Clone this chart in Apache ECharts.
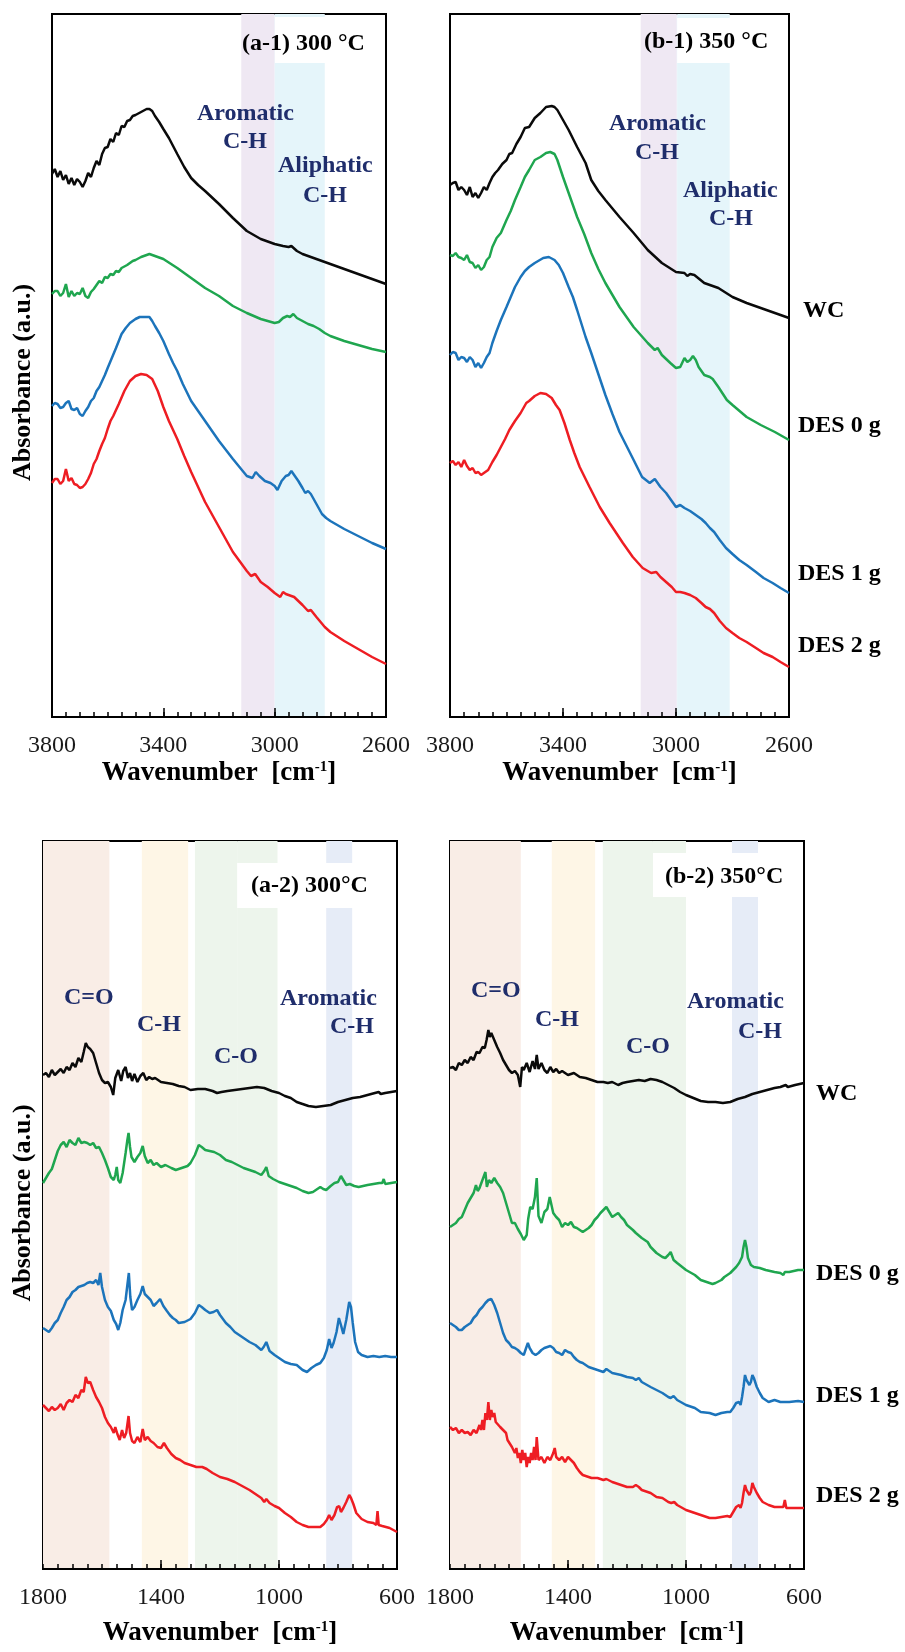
<!DOCTYPE html>
<html>
<head>
<meta charset="utf-8">
<script src="https://cdn.jsdelivr.net/npm/echarts@6/dist/echarts.min.js"></script>
<style>
  html, body { margin: 0; padding: 0; background: #fff; }
  #chart { width: 905px; height: 1652px; }
</style>
</head>
<body>
<div id="chart"></div>
<script>
  // ---- tick labels ----
  const ticksHigh = [3800, 3400, 3000, 2600];
  const ticksLow = [1800, 1400, 1000, 600];

  // ---- shaded bands [from, to] in cm-1 ----
  const bandsA1 = [[3120, 3000], [3000, 2820]];
  const bandsB1 = [[3125, 2997], [2997, 2810]];
  const bandsA2 = [[1800, 1575], [1465, 1308], [1285, 1005], [840, 752]];
  const bandsB2 = [[1800, 1560], [1455, 1308], [1282, 1000], [844, 756]];

  // ---- (a-1) 300 °C, 3800-2600 cm-1 ----
  const a1WC = [[3800,54.3],[3790,54.8],[3780,54.0],[3770,54.6],[3760,53.7],[3750,54.2],[3740,53.3],[3730,53.9],[3720,53.2],[3710,53.8],[3700,53.5],[3690,53.0],[3680,53.6],[3670,54.4],[3660,54.0],[3650,54.9],[3640,55.6],[3630,55.2],[3620,56.3],[3610,56.9],[3600,57.0],[3590,57.8],[3580,57.5],[3570,58.4],[3560,58.2],[3550,59.1],[3540,59.0],[3530,59.6],[3520,59.7],[3510,60.1],[3500,60.2],[3480,60.5],[3460,60.8],[3450,60.8],[3440,60.6],[3430,60.1],[3415,59.5],[3400,58.8],[3380,57.9],[3350,56.3],[3325,55.0],[3300,53.9],[3275,53.2],[3250,52.6],[3200,51.3],[3150,49.9],[3100,48.6],[3050,47.8],[3000,47.3],[2970,47.1],[2950,47.0],[2940,47.1],[2920,46.6],[2900,46.3],[2850,45.8],[2800,45.3],[2750,44.8],[2700,44.3],[2650,43.8],[2600,43.3]];
  const a1D0 = [[3800,42.3],[3790,42.6],[3780,42.6],[3770,42.1],[3760,42.4],[3750,43.3],[3740,42.0],[3730,42.6],[3720,42.1],[3710,42.4],[3700,42.3],[3690,42.9],[3680,42.1],[3670,41.9],[3660,42.5],[3650,42.8],[3640,43.2],[3630,43.6],[3620,43.4],[3610,44.0],[3600,43.9],[3590,44.3],[3580,44.2],[3570,44.6],[3560,44.5],[3550,44.9],[3530,45.2],[3510,45.6],[3500,45.7],[3480,46.0],[3460,46.2],[3450,46.3],[3430,46.1],[3400,45.8],[3350,44.9],[3300,43.9],[3250,42.9],[3200,42.1],[3150,41.1],[3100,40.4],[3050,39.8],[3000,39.4],[2985,39.5],[2970,39.9],[2955,40.1],[2945,40.0],[2933,40.3],[2920,39.9],[2900,39.6],[2880,39.3],[2860,39.1],[2840,38.8],[2820,38.4],[2800,38.1],[2750,37.6],[2700,37.2],[2650,36.8],[2600,36.5]];
  const a1D1 = [[3800,31.1],[3790,31.4],[3780,31.3],[3770,30.9],[3760,31.0],[3750,31.4],[3740,31.6],[3730,30.8],[3720,30.7],[3710,30.9],[3700,30.3],[3690,30.1],[3680,30.6],[3670,31.0],[3660,31.6],[3650,31.9],[3640,32.6],[3630,33.0],[3620,33.6],[3610,34.2],[3600,34.9],[3585,35.9],[3570,36.9],[3560,37.6],[3550,38.3],[3535,38.9],[3520,39.4],[3500,39.8],[3485,40.0],[3470,40.0],[3450,40.0],[3440,39.6],[3430,39.1],[3415,38.4],[3400,37.6],[3380,36.3],[3365,35.4],[3350,34.6],[3330,33.3],[3300,31.6],[3275,30.6],[3250,29.6],[3200,27.6],[3150,25.8],[3100,24.1],[3080,23.9],[3068,24.5],[3055,24.1],[3035,23.6],[3015,23.4],[3000,23.1],[2990,22.7],[2975,23.6],[2960,24.1],[2950,24.2],[2940,24.6],[2930,24.2],[2915,23.6],[2900,22.9],[2890,22.4],[2880,22.6],[2870,22.3],[2850,21.3],[2830,20.3],[2815,19.9],[2800,19.6],[2750,18.8],[2700,18.1],[2650,17.4],[2600,16.8]];
  const a1D2 = [[3800,23.4],[3790,23.8],[3780,23.8],[3770,23.3],[3760,23.6],[3750,24.8],[3740,23.6],[3730,23.9],[3720,23.3],[3710,23.2],[3700,22.9],[3690,23.0],[3680,23.3],[3670,23.8],[3660,24.4],[3650,25.3],[3640,25.8],[3630,26.6],[3620,27.3],[3610,27.9],[3600,28.8],[3590,29.6],[3580,30.1],[3570,30.7],[3560,31.3],[3540,32.6],[3520,33.6],[3500,34.1],[3480,34.3],[3460,34.2],[3440,33.8],[3420,32.6],[3400,31.0],[3380,29.6],[3350,27.8],[3325,26.1],[3300,24.5],[3250,21.5],[3200,19.0],[3150,16.5],[3100,14.6],[3085,14.1],[3070,14.3],[3050,13.5],[3025,13.0],[3000,12.4],[2980,12.0],[2970,12.5],[2960,12.3],[2950,12.2],[2930,12.0],[2915,11.6],[2900,11.2],[2880,10.6],[2870,10.7],[2850,10.0],[2820,9.0],[2800,8.5],[2750,7.6],[2700,6.8],[2650,6.0],[2600,5.3]];

  // ---- (b-1) 350 °C, 3800-2600 cm-1 ----
  const b1WC = [[3800,53.2],[3790,53.4],[3780,53.5],[3770,52.7],[3760,53.0],[3750,52.7],[3740,52.2],[3730,53.0],[3720,52.0],[3710,52.4],[3700,51.9],[3690,52.4],[3680,53.0],[3670,52.7],[3660,53.4],[3650,54.0],[3640,54.4],[3630,54.7],[3615,55.3],[3600,55.7],[3590,56.3],[3580,56.4],[3565,57.3],[3550,58.0],[3535,58.9],[3520,59.0],[3500,59.9],[3480,60.4],[3460,61.0],[3440,61.1],[3430,61.0],[3420,60.7],[3400,59.7],[3380,58.7],[3350,57.0],[3320,55.4],[3300,53.7],[3275,52.6],[3250,51.7],[3200,50.0],[3150,48.4],[3100,46.7],[3050,45.4],[3000,44.5],[2970,44.4],[2960,44.1],[2950,44.3],[2935,44.2],[2900,43.4],[2850,42.9],[2800,42.0],[2750,41.4],[2700,40.9],[2650,40.4],[2600,39.9]];
  const b1D0 = [[3800,46.2],[3790,46.1],[3780,46.4],[3770,46.0],[3760,45.9],[3750,45.7],[3740,46.2],[3730,45.5],[3720,45.4],[3710,44.9],[3700,45.2],[3690,44.7],[3680,45.0],[3670,45.7],[3660,46.0],[3650,47.0],[3635,47.9],[3620,48.4],[3600,49.7],[3585,50.6],[3570,51.7],[3550,53.0],[3535,54.0],[3520,54.7],[3500,55.7],[3480,56.0],[3460,56.4],[3445,56.5],[3430,56.3],[3420,55.7],[3400,54.0],[3380,52.4],[3350,50.0],[3325,48.3],[3300,46.4],[3275,44.8],[3250,43.4],[3200,41.0],[3150,39.0],[3100,37.4],[3075,36.7],[3065,36.9],[3050,36.2],[3020,35.4],[3000,34.9],[2985,35.0],[2970,35.9],[2960,35.5],[2950,35.7],[2940,36.1],[2930,35.7],[2920,35.0],[2900,34.2],[2880,34.0],[2870,33.8],[2850,33.0],[2820,31.7],[2800,31.2],[2750,30.0],[2700,29.2],[2650,28.5],[2600,27.7]];
  const b1D1 = [[3800,36.2],[3790,36.5],[3780,36.4],[3770,35.7],[3760,36.0],[3750,35.9],[3740,35.5],[3730,36.0],[3720,35.7],[3710,35.0],[3700,35.4],[3690,34.9],[3680,35.4],[3670,36.0],[3660,36.4],[3650,37.4],[3635,38.6],[3620,39.7],[3600,41.0],[3585,42.0],[3570,43.0],[3550,44.0],[3535,44.6],[3520,45.0],[3500,45.4],[3470,45.9],[3450,46.0],[3430,45.7],[3415,45.2],[3400,44.4],[3380,43.0],[3365,42.0],[3350,40.7],[3320,38.0],[3300,36.4],[3275,34.3],[3250,32.2],[3225,30.3],[3200,28.5],[3150,25.7],[3120,24.0],[3093,23.4],[3075,23.8],[3070,23.9],[3055,23.0],[3035,22.4],[3015,21.6],[3000,21.0],[2985,21.2],[2970,20.9],[2950,20.6],[2930,20.2],[2910,19.8],[2895,19.4],[2880,18.9],[2865,18.5],[2845,17.7],[2823,16.9],[2800,16.3],[2776,15.7],[2750,15.2],[2717,14.5],[2690,13.9],[2658,13.4],[2630,12.9],[2600,12.4]];
  const b1D2 = [[3800,25.4],[3790,25.6],[3780,25.2],[3770,25.5],[3760,25.0],[3750,25.7],[3740,25.1],[3730,24.7],[3720,24.9],[3710,24.4],[3700,24.5],[3690,24.2],[3680,24.4],[3665,24.7],[3650,25.5],[3635,26.2],[3620,27.0],[3605,27.8],[3590,28.7],[3570,29.6],[3550,30.4],[3530,31.4],[3520,31.6],[3500,32.1],[3480,32.4],[3460,32.3],[3440,31.9],[3425,31.2],[3412,30.7],[3395,29.4],[3376,27.7],[3360,26.4],[3341,25.0],[3306,23.0],[3270,21.0],[3235,19.4],[3188,17.4],[3153,16.0],[3118,14.9],[3088,14.4],[3070,14.5],[3055,14.0],[3035,13.5],[3015,13.0],[3000,12.5],[2985,12.5],[2970,12.4],[2950,12.2],[2930,11.9],[2910,11.4],[2895,11.0],[2880,10.8],[2865,10.4],[2845,9.6],[2823,8.9],[2800,8.4],[2776,7.9],[2750,7.5],[2717,6.9],[2690,6.4],[2658,6.0],[2630,5.5],[2600,5.0]];

  // ---- (a-2) 300 °C, 1800-600 cm-1 ----
  const a2WC = [[1800,49.4],[1790,49.6],[1780,49.2],[1770,49.9],[1760,49.4],[1750,49.7],[1740,50.0],[1730,49.6],[1720,50.2],[1710,49.9],[1700,50.6],[1690,50.2],[1680,51.1],[1670,50.7],[1662,51.7],[1655,52.6],[1648,52.2],[1640,52.0],[1630,51.6],[1620,50.6],[1610,49.6],[1600,48.9],[1590,48.6],[1580,48.7],[1570,48.2],[1562,47.4],[1555,49.1],[1545,49.9],[1535,48.8],[1528,49.8],[1520,50.2],[1512,49.1],[1505,49.6],[1498,48.8],[1490,49.5],[1480,48.7],[1470,49.3],[1460,49.6],[1450,48.9],[1440,49.2],[1430,49.0],[1420,49.1],[1400,48.7],[1380,48.6],[1360,48.5],[1340,48.3],[1320,48.2],[1300,47.9],[1275,48.0],[1250,48.0],[1225,47.8],[1210,47.6],[1195,47.7],[1175,47.8],[1150,47.9],[1125,48.0],[1100,48.1],[1075,48.2],[1050,48.1],[1025,47.8],[1000,47.6],[980,47.3],[960,47.1],[940,46.7],[920,46.5],[900,46.3],[875,46.2],[850,46.3],[825,46.4],[800,46.7],[775,46.9],[750,47.1],[725,47.2],[700,47.4],[675,47.6],[662,47.7],[655,47.5],[640,47.6],[620,47.7],[600,47.8]];
  const a2D0 = [[1800,38.6],[1790,39.1],[1780,39.6],[1770,40.0],[1760,40.9],[1750,41.8],[1740,42.4],[1730,42.7],[1720,42.2],[1710,42.9],[1700,42.6],[1690,42.4],[1680,43.1],[1670,42.6],[1660,42.7],[1650,42.6],[1640,42.4],[1630,42.6],[1620,42.1],[1610,42.2],[1600,41.6],[1590,40.9],[1580,40.1],[1570,39.2],[1560,38.9],[1555,39.4],[1550,40.2],[1545,38.9],[1538,38.6],[1530,39.6],[1520,41.6],[1514,42.9],[1510,43.6],[1505,42.2],[1500,41.2],[1490,40.7],[1480,41.2],[1470,41.6],[1462,42.3],[1455,41.3],[1445,40.6],[1435,40.9],[1425,40.4],[1415,40.6],[1400,40.2],[1385,40.4],[1365,40.1],[1350,39.9],[1330,40.1],[1310,40.3],[1300,40.6],[1285,41.4],[1272,42.4],[1262,42.2],[1250,41.9],[1235,41.8],[1220,41.7],[1200,41.4],[1180,40.9],[1160,40.7],[1140,40.4],[1120,40.1],[1100,39.9],[1080,39.7],[1060,39.4],[1050,39.8],[1043,40.2],[1035,39.3],[1020,39.0],[1000,38.7],[980,38.5],[960,38.3],[940,38.1],[920,37.8],[900,37.6],[885,37.7],[870,38.0],[860,38.2],[850,38.0],[840,37.9],[825,38.3],[812,38.6],[800,38.7],[790,39.3],[782,38.9],[772,38.4],[760,38.5],[745,38.3],[730,38.2],[715,38.3],[700,38.4],[680,38.5],[660,38.6],[650,38.6],[645,39.0],[640,38.5],[620,38.6],[600,38.7]];
  const a2D1 = [[1800,24.1],[1790,23.9],[1780,23.7],[1770,24.1],[1760,24.6],[1750,24.9],[1740,25.6],[1730,26.2],[1720,26.9],[1710,27.2],[1700,27.7],[1690,27.9],[1680,28.2],[1670,28.3],[1660,28.4],[1650,28.6],[1640,28.7],[1630,28.6],[1620,28.9],[1612,28.4],[1606,29.6],[1600,28.2],[1590,26.9],[1580,26.2],[1570,25.8],[1560,24.9],[1552,24.5],[1545,23.9],[1538,24.6],[1530,25.9],[1520,26.9],[1514,28.4],[1509,29.6],[1504,27.2],[1498,25.9],[1490,26.2],[1480,26.9],[1470,27.5],[1462,28.3],[1455,27.5],[1445,27.2],[1435,26.9],[1425,26.3],[1415,26.6],[1403,27.0],[1392,26.3],[1380,25.8],[1370,25.4],[1360,25.1],[1350,24.9],[1340,24.6],[1320,24.7],[1300,25.0],[1285,25.6],[1272,26.4],[1262,26.2],[1250,25.9],[1235,25.6],[1222,25.7],[1210,25.9],[1200,25.4],[1180,24.6],[1165,24.2],[1150,23.7],[1125,23.2],[1100,22.7],[1080,22.4],[1060,21.9],[1052,22.2],[1043,22.7],[1032,21.8],[1015,21.4],[1000,21.1],[980,20.7],[960,20.5],[940,20.4],[920,19.9],[905,19.7],[890,20.1],[875,20.4],[860,20.6],[848,21.1],[838,21.9],[830,23.0],[822,22.1],[815,22.6],[805,23.7],[797,25.1],[790,24.4],[782,23.5],[772,24.9],[762,26.7],[756,26.2],[750,24.6],[742,22.7],[732,21.7],[720,21.4],[700,21.2],[680,21.3],[660,21.2],[640,21.3],[620,21.2],[600,21.2]];
  const a2D2 = [[1800,16.4],[1790,16.1],[1780,15.8],[1770,16.2],[1760,15.9],[1750,16.1],[1740,16.5],[1730,15.9],[1720,16.6],[1710,16.9],[1700,16.7],[1690,17.4],[1680,17.1],[1670,17.9],[1662,17.7],[1655,19.2],[1648,18.6],[1640,18.7],[1630,17.9],[1620,17.2],[1610,16.7],[1600,16.1],[1590,15.2],[1580,14.6],[1570,14.2],[1560,13.6],[1555,14.2],[1548,13.5],[1540,12.9],[1532,13.9],[1525,13.1],[1518,13.6],[1510,15.3],[1505,13.6],[1498,12.8],[1490,12.6],[1480,13.2],[1470,12.7],[1462,14.0],[1455,12.9],[1445,13.2],[1435,12.8],[1425,12.6],[1412,12.2],[1400,12.1],[1390,12.6],[1380,12.1],[1365,11.5],[1350,11.1],[1335,10.9],[1320,10.6],[1300,10.4],[1280,10.2],[1260,10.2],[1245,10.0],[1225,9.6],[1200,9.2],[1175,9.0],[1150,8.7],[1125,8.3],[1100,7.9],[1080,7.5],[1060,7.1],[1050,6.7],[1043,7.0],[1032,6.6],[1015,6.3],[1000,6.1],[980,5.6],[960,5.2],[940,4.7],[920,4.4],[900,4.2],[880,4.2],[860,4.2],[848,4.5],[838,4.9],[830,5.4],[822,4.9],[812,5.4],[803,6.2],[796,6.3],[790,5.7],[782,6.1],[772,6.7],[762,7.4],[756,7.1],[748,6.5],[738,5.6],[720,5.0],[700,4.7],[680,4.6],[670,4.4],[666,5.8],[662,4.4],[650,4.3],[625,4.1],[600,3.7]];

  // ---- (b-2) 350 °C, 1800-600 cm-1 ----
  const b2WC = [[1800,50.1],[1790,50.2],[1780,49.9],[1770,50.6],[1760,50.4],[1750,50.9],[1740,50.6],[1730,51.2],[1720,50.9],[1710,51.7],[1700,51.6],[1690,52.2],[1682,52.1],[1676,52.9],[1670,53.9],[1665,53.2],[1660,53.6],[1650,52.9],[1640,52.2],[1630,51.6],[1620,50.9],[1610,50.4],[1600,49.9],[1590,49.6],[1580,49.8],[1570,49.4],[1562,48.2],[1556,50.2],[1550,49.9],[1540,50.6],[1530,49.7],[1520,50.8],[1512,50.0],[1506,51.4],[1500,50.0],[1490,50.6],[1480,49.9],[1470,49.6],[1460,50.2],[1450,49.7],[1440,50.0],[1430,49.6],[1420,49.8],[1410,49.6],[1400,49.4],[1380,49.6],[1360,49.2],[1340,49.1],[1320,48.9],[1300,48.7],[1280,48.7],[1265,48.6],[1250,48.7],[1230,48.4],[1215,48.6],[1200,48.7],[1180,48.8],[1160,48.9],[1140,48.8],[1120,49.0],[1100,48.9],[1080,48.7],[1060,48.4],[1040,48.1],[1020,47.7],[1000,47.4],[975,47.1],[950,46.8],[925,46.7],[900,46.7],[875,46.6],[850,46.7],[825,47.0],[800,47.2],[775,47.5],[750,47.7],[725,47.9],[700,48.1],[680,48.2],[662,48.4],[655,48.2],[630,48.4],[600,48.6]];
  const b2D0 = [[1800,34.2],[1790,34.4],[1780,34.6],[1770,35.0],[1760,35.2],[1750,35.9],[1740,36.6],[1730,37.1],[1720,37.6],[1712,38.4],[1706,37.8],[1700,38.1],[1690,38.9],[1680,39.7],[1675,38.2],[1668,38.9],[1660,38.6],[1650,39.1],[1640,38.6],[1630,38.2],[1620,37.6],[1610,36.6],[1600,35.6],[1590,34.6],[1580,34.6],[1570,34.0],[1560,33.5],[1550,32.9],[1540,33.4],[1535,35.0],[1528,36.2],[1520,36.0],[1512,37.2],[1506,39.1],[1500,35.3],[1490,34.6],[1480,35.7],[1470,36.0],[1462,37.2],[1450,35.6],[1440,35.2],[1430,34.9],[1420,34.2],[1410,34.6],[1400,34.4],[1390,34.7],[1380,34.2],[1370,34.1],[1360,33.9],[1350,33.7],[1340,33.9],[1330,34.1],[1320,34.4],[1310,34.9],[1300,35.2],[1290,35.6],[1280,35.9],[1270,36.2],[1260,35.7],[1250,35.2],[1240,35.4],[1230,35.6],[1220,35.2],[1210,34.9],[1200,34.4],[1180,33.9],[1170,33.6],[1150,33.1],[1130,32.7],[1120,32.2],[1100,31.6],[1080,31.2],[1070,31.1],[1060,31.4],[1052,31.7],[1042,30.9],[1030,30.6],[1000,29.9],[970,29.4],[950,28.9],[930,28.7],[910,28.5],[900,28.6],[880,28.9],[870,29.2],[860,29.4],[850,29.6],[840,29.9],[830,30.2],[820,30.6],[810,31.2],[805,32.2],[800,32.9],[795,32.2],[790,31.1],[780,30.4],[770,30.2],[750,30.1],[730,29.9],[700,29.7],[680,29.6],[670,29.4],[665,29.7],[650,29.7],[620,29.9],[600,29.9]];
  const b2D1 = [[1800,24.6],[1790,24.4],[1780,24.2],[1770,23.9],[1760,23.9],[1750,24.2],[1740,24.4],[1730,24.6],[1720,25.1],[1710,25.4],[1700,25.9],[1690,26.2],[1680,26.6],[1670,26.9],[1665,26.7],[1660,27.0],[1650,26.4],[1640,25.6],[1630,24.6],[1620,23.6],[1610,22.9],[1600,22.6],[1590,22.2],[1580,22.1],[1570,21.9],[1560,21.6],[1550,21.4],[1542,22.1],[1536,22.6],[1530,22.1],[1520,21.6],[1510,21.4],[1500,21.6],[1490,21.9],[1480,22.1],[1470,22.2],[1460,22.3],[1450,22.1],[1440,21.7],[1430,21.6],[1420,21.4],[1410,21.9],[1400,21.7],[1390,21.6],[1380,21.2],[1370,20.9],[1360,20.7],[1350,20.6],[1330,20.2],[1300,19.9],[1280,19.7],[1270,20.0],[1250,19.6],[1220,19.4],[1200,19.2],[1180,19.1],[1170,18.9],[1160,19.1],[1150,18.7],[1120,18.2],[1100,17.9],[1080,17.6],[1060,17.2],[1052,17.1],[1042,17.3],[1030,16.9],[1000,16.4],[970,16.1],[950,15.7],[920,15.6],[900,15.4],[880,15.6],[860,15.7],[850,15.7],[840,16.1],[830,16.6],[820,16.7],[815,16.4],[810,17.2],[805,18.2],[800,19.4],[795,18.9],[790,19.1],[785,18.4],[780,18.7],[775,19.4],[770,19.1],[760,18.2],[750,17.6],[740,17.1],[720,16.7],[700,16.9],[680,16.7],[650,16.7],[620,16.8],[600,16.7]];
  const b2D2 = [[1800,14.2],[1790,13.9],[1780,14.1],[1770,13.6],[1760,13.9],[1750,13.6],[1740,13.7],[1730,13.4],[1720,13.9],[1710,13.6],[1700,14.4],[1695,13.9],[1690,14.9],[1685,13.9],[1680,15.6],[1675,14.9],[1670,16.7],[1665,14.9],[1660,15.9],[1655,15.2],[1650,15.6],[1645,14.7],[1640,14.9],[1630,14.2],[1620,13.9],[1610,13.6],[1605,12.9],[1600,13.1],[1590,12.2],[1580,11.6],[1575,12.1],[1570,11.1],[1565,11.6],[1560,10.6],[1555,11.9],[1550,10.9],[1545,11.6],[1540,10.2],[1535,11.2],[1530,10.6],[1525,11.6],[1520,10.9],[1515,12.2],[1510,10.9],[1506,13.2],[1500,10.9],[1490,11.2],[1480,10.6],[1470,11.2],[1460,10.9],[1450,11.6],[1445,12.1],[1440,11.2],[1430,10.9],[1420,11.2],[1410,10.7],[1400,11.2],[1390,10.9],[1380,10.6],[1370,10.1],[1360,9.7],[1350,9.4],[1330,9.2],[1320,9.1],[1300,9.1],[1280,8.9],[1270,9.0],[1250,8.7],[1220,8.4],[1200,8.2],[1180,8.2],[1170,8.4],[1160,8.2],[1150,7.9],[1120,7.6],[1100,7.2],[1080,7.1],[1060,6.7],[1050,6.6],[1040,6.7],[1030,6.4],[1000,5.9],[970,5.6],[950,5.4],[920,5.1],[900,5.1],[880,5.2],[860,5.3],[850,5.2],[840,5.7],[830,6.2],[820,6.4],[815,6.1],[810,6.6],[805,7.6],[800,8.4],[795,7.9],[790,8.1],[785,7.4],[780,7.7],[775,8.6],[770,8.2],[760,7.6],[750,7.1],[740,6.7],[720,6.4],[700,6.2],[680,6.2],[670,6.2],[665,6.9],[660,6.1],[650,6.1],[600,6.1]];

  const SERIF = '"Liberation Serif", "DejaVu Serif", serif';
  const NAVY = '#1f2d6b';
  const colors = { WC: '#0a0a0a', D0: '#1fa64f', D1: '#1c74bb', D2: '#ee1d23' };

  // cut: region kept clear of band colour behind each panel title ([x from, x to], [y lo, y hi])
  const panels = [
    { grid: { left: 52, top: 14, width: 334, height: 703 }, range: [2600, 3800], ticks: ticksHigh, ymax: 70.3, nameGap: 43,
      bands: bandsA1, bandColors: ['#efe8f3', '#e5f5fa'], cut: [[2999, 2640], [65.4, 70.0]],
      lines: [a1WC, a1D0, a1D1, a1D2], yName: { gap: 16, pad: [0, 34, 0, 0] } },
    { grid: { left: 450, top: 14, width: 339, height: 703 }, range: [2600, 3800], ticks: ticksHigh, ymax: 70.3, nameGap: 43,
      bands: bandsB1, bandColors: ['#efe8f3', '#e5f5fa'], cut: [[2996, 2632], [65.4, 69.9]],
      lines: [b1WC, b1D0, b1D1, b1D2] },
    { grid: { left: 43, top: 841, width: 354, height: 728 }, range: [600, 1800], ticks: ticksLow, ymax: 72.8, nameGap: 51,
      bands: bandsA2, bandColors: ['#f9ede6', '#fef6e6', '#edf5ec', '#e6ecf7'], cut: [[1142, 681], [66.1, 70.6]],
      lines: [a2WC, a2D0, a2D1, a2D2], yName: { gap: 7, pad: [0, 0, 0, 4] } },
    { grid: { left: 450, top: 841, width: 354, height: 728 }, range: [600, 1800], ticks: ticksLow, ymax: 72.8, nameGap: 51,
      bands: bandsB2, bandColors: ['#f9ede6', '#fef6e6', '#edf5ec', '#e6ecf7'], cut: [[1112, 647], [67.2, 71.6]],
      lines: [b2WC, b2D0, b2D1, b2D2] }
  ];

  // split each band where it meets the title's clear region
  function bandPieces(p) {
    const out = [];
    const [cx, cy] = p.cut;
    p.bands.forEach((b, n) => {
      const color = p.bandColors[n];
      const hi = Math.min(b[0], cx[0]), lo = Math.max(b[1], cx[1]);
      const piece = (x0, x1, y0, y1) => out.push([
        Object.assign({ xAxis: x0, itemStyle: { color } }, y0 != null ? { yAxis: y0 } : {}),
        Object.assign({ xAxis: x1 }, y1 != null ? { yAxis: y1 } : {})
      ]);
      if (hi <= lo) { piece(b[0], b[1]); return; }
      if (b[0] > hi) piece(b[0], hi);
      if (lo > b[1]) piece(lo, b[1]);
      piece(hi, lo, 0, cy[0]);
      piece(hi, lo, cy[1], p.ymax);
    });
    return out;
  }

  const grid = [], xAxis = [], yAxis = [], series = [];
  panels.forEach((p, i) => {
    grid.push(Object.assign({ show: true, borderColor: '#000', borderWidth: 2 }, p.grid));
    xAxis.push({
      gridIndex: i, type: 'value', min: p.range[0], max: p.range[1], inverse: true, interval: 50, z: 6,
      axisLine: { show: true, lineStyle: { color: '#000', width: 2 } },
      axisTick: { show: true, inside: true, length: 5, lineStyle: { color: '#000', width: 1.5 } },
      axisLabel: { formatter: v => (p.ticks.indexOf(v) >= 0 ? String(v) : ''), color: '#1a1a1a', fontSize: 24, fontFamily: SERIF, margin: 17 },
      splitLine: { show: false },
      name: 'Wavenumber  [cm{sup|-1}]', nameLocation: 'middle', nameGap: p.nameGap,
      nameTextStyle: { fontFamily: SERIF, fontWeight: 'bold', fontSize: 27, color: '#000',
        rich: { sup: { fontFamily: SERIF, fontWeight: 'bold', fontSize: 15, color: '#000', verticalAlign: 'top', padding: [0, 0, 12, 0] } } }
    });
    const ya = { gridIndex: i, type: 'value', min: 0, max: p.ymax, show: false };
    if (p.yName) {
      Object.assign(ya, {
        show: true, axisLine: { show: false }, axisTick: { show: false }, axisLabel: { show: false }, splitLine: { show: false },
        name: 'Absorbance (a.u.)', nameLocation: 'middle', nameGap: p.yName.gap,
        nameTextStyle: { fontFamily: SERIF, fontWeight: 'bold', fontSize: 26, color: '#000', padding: p.yName.pad }
      });
    }
    yAxis.push(ya);
    ['WC', 'D0', 'D1', 'D2'].forEach((k, j) => {
      const s = {
        type: 'line', xAxisIndex: i, yAxisIndex: i, data: p.lines[j],
        symbol: 'none', lineStyle: { color: colors[k], width: 2.5 }, itemStyle: { color: colors[k] },
        z: 3, silent: true
      };
      if (j === 0) {
        s.markArea = { silent: true, data: bandPieces(p) };
        // slightly longer ticks at the labelled wavenumbers
        s.markLine = {
          silent: true, symbol: 'none', label: { show: false },
          lineStyle: { color: '#000', width: 1.5, type: 'solid' },
          data: p.ticks.slice(1, -1).map(t => [{ coord: [t, 0] }, { coord: [t, 0.9] }])
        };
      }
      series.push(s);
    });
  });

  // text labels as title components, positioned by their top-left corner
  const ctx = document.createElement('canvas').getContext('2d');
  const textWidth = (text, size) => { ctx.font = 'bold ' + size + 'px ' + SERIF; return ctx.measureText(text).width; };
  const label = (text, x, cy, align, color) => {
    const w = textWidth(text, 24);
    const left = align === 'center' ? x - w / 2 : x;
    return {
      text, left: Math.round(left), top: Math.round(cy - 13), textAlign: 'left', textVerticalAlign: 'top',
      padding: 0, itemGap: 0, z: 8,
      textStyle: { fontFamily: SERIF, fontWeight: 'bold', fontSize: 24, color: color || NAVY }
    };
  };

  const title = [
    label('(a-1) 300 °C', 242, 45, 'left', '#000'), label('(b-1) 350 °C', 644, 43, 'left', '#000'),
    label('(a-2) 300°C', 251, 887, 'left', '#000'), label('(b-2) 350°C', 665, 878, 'left', '#000'),
    label('Aromatic', 245, 115, 'center'), label('C-H', 245, 143, 'center'),
    label('Aliphatic', 325, 167, 'center'), label('C-H', 325, 197, 'center'),
    label('Aromatic', 657, 125, 'center'), label('C-H', 657, 154, 'center'),
    label('Aliphatic', 730, 192, 'center'), label('C-H', 731, 220, 'center'),
    label('C=O', 89, 999, 'center'), label('C-H', 159, 1026, 'center'), label('C-O', 236, 1058, 'center'),
    label('Aromatic', 328, 1000, 'center'), label('C-H', 352, 1028, 'center'),
    label('C=O', 496, 992, 'center'), label('C-H', 557, 1021, 'center'), label('C-O', 648, 1048, 'center'),
    label('Aromatic', 735, 1003, 'center'), label('C-H', 760, 1033, 'center'),
    label('WC', 803, 312, 'left', '#000'), label('DES 0 g', 798, 427, 'left', '#000'),
    label('DES 1 g', 798, 575, 'left', '#000'), label('DES 2 g', 798, 647, 'left', '#000'),
    label('WC', 816, 1095, 'left', '#000'), label('DES 0 g', 816, 1275, 'left', '#000'),
    label('DES 1 g', 816, 1397, 'left', '#000'), label('DES 2 g', 816, 1497, 'left', '#000')
  ];

  const chart = echarts.init(document.getElementById('chart'));
  chart.setOption({
    animation: false,
    backgroundColor: '#fff',
    title, grid, xAxis, yAxis, series
  });
</script>
</body>
</html>
